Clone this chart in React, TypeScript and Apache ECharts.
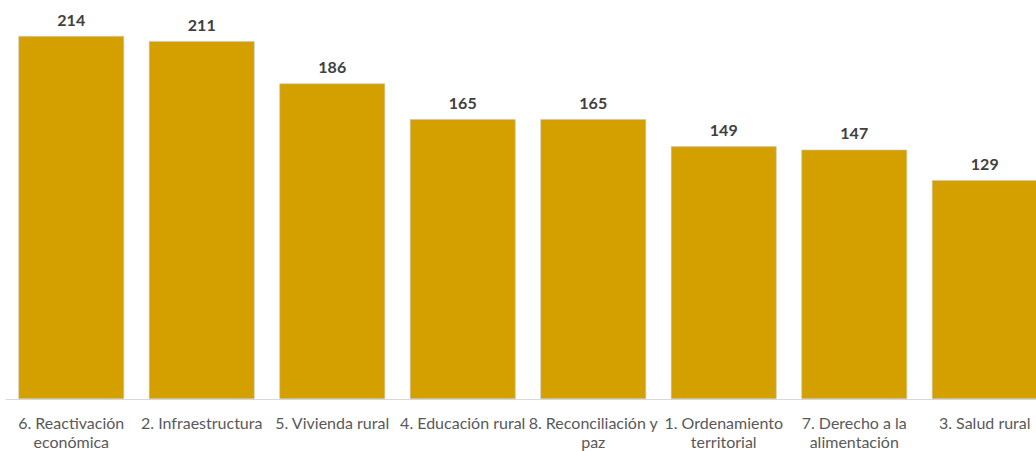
import React, { useEffect, useRef } from "react";
import * as echarts from "echarts";

const categories = [
  "6. Reactivación\neconómica",
  "2. Infraestructura",
  "5. Vivienda rural",
  "4. Educación rural",
  "8. Reconciliación y\npaz",
  "1. Ordenamiento\nterritorial",
  "7. Derecho a la\nalimentación",
  "3. Salud rural",
];
const values = [214, 211, 186, 165, 165, 149, 147, 129];

export default function App() {
  const ref = useRef<HTMLDivElement>(null);
  useEffect(() => {
    if (!ref.current) return;
    const chart = echarts.init(ref.current, undefined, { renderer: "svg" });
    chart.setOption({
      animation: false,
      grid: { left: 6, right: 0, top: 36, bottom: 50, containLabel: false },
      xAxis: {
        type: "category",
        data: categories,
        axisTick: { show: false },
        axisLine: { lineStyle: { color: "#D9D9D9", width: 1 } },
        axisLabel: {
          interval: 0,
          color: "#595959",
          fontSize: 16,
          fontFamily: "Lato",
          lineHeight: 19,
          margin: 14,
        },
      },
      yAxis: {
        type: "value",
        min: 0,
        max: 214,
        show: false,
        splitLine: { show: false },
      },
      series: [
        {
          type: "bar",
          data: values,
          barCategoryGap: "19%",
          itemStyle: { color: "#D4A000", borderColor: "#C8C8C8", borderWidth: 0.6 },
          label: {
            show: true,
            position: "top",
            distance: 9,
            color: "#404040",
            fontSize: 16,
            fontWeight: "bold",
            fontFamily: "Lato",
          },
        },
      ],
    });
    return () => chart.dispose();
  }, []);
  return (
    <div style={{ position: "fixed", left: 0, top: 0, width: 1036, height: 451, overflow: "hidden", background: "#fff" }}>
      <div ref={ref} style={{ width: 1050, height: 451 }} />
    </div>
  );
}
